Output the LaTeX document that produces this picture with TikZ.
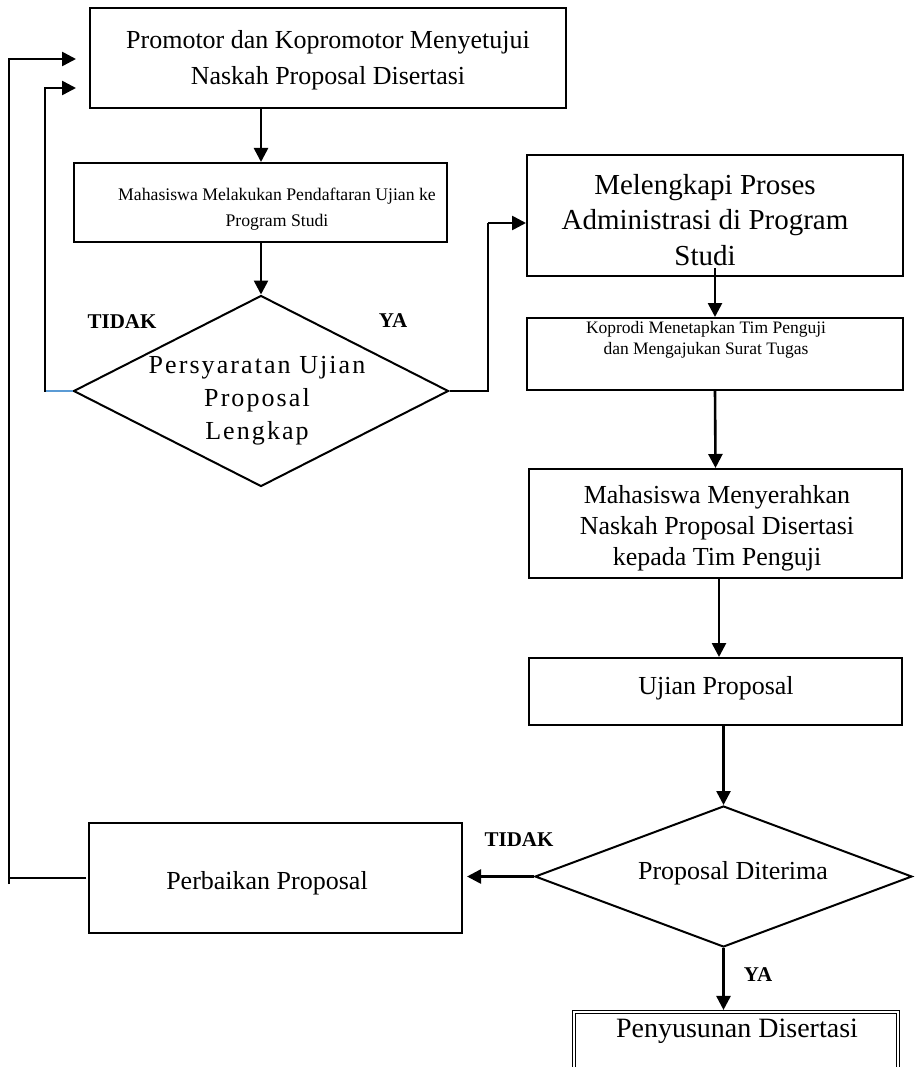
\documentclass[tikz,border=0pt]{standalone}
\usepackage{fontspec}
\setmainfont{Liberation Serif}
\newfontfamily\spacedserif[LetterSpace=8]{Liberation Serif}
\usetikzlibrary{shapes.geometric,arrows.meta}
\definecolor{linkblue}{HTML}{5B9BD5}
\begin{document}
\begin{tikzpicture}[x=1pt,y=-1pt,
  box/.style={draw,line width=2pt,rectangle,inner sep=0pt},
  dia/.style={draw,line width=2pt,diamond,inner sep=0pt},
  dbox/.style={draw,line width=1.1pt,double,double distance=2pt,rectangle,inner sep=0pt},
  txt/.style={align=center,inner sep=0pt},
  lbl/.style={inner sep=0pt,font=\fontsize{21}{24}\selectfont\bfseries},
  arr/.style={line width=2.6pt,-{Triangle[length=14pt,width=14pt]}},
  ln/.style={line width=2.6pt},
  blueln/.style={line width=1.5pt,draw=linkblue}]
\clip (0,0) rectangle (916,1067);
\fill[white] (0,0) rectangle (916,1067);

% boxes
\node[box,minimum width=476pt,minimum height=100pt] (n1) at (328,58) {};
\node[txt,font=\fontsize{26}{36}\selectfont] (t1) at (328,60) {Promotor dan Kopromotor Menyetujui\\Naskah Proposal Disertasi};

\node[box,minimum width=373pt,minimum height=79pt] (n2) at (260.5,202.5) {};
\node[txt,font=\fontsize{17.7}{26}\selectfont] (t2) at (277,209) {Mahasiswa Melakukan Pendaftaran Ujian ke\\Program Studi};

\node[dia,minimum width=375pt,minimum height=191pt] (d1) at (261,391) {};
\node[txt,font=\spacedserif\fontsize{26}{33}\selectfont] (td1) at (257,401) {Persyaratan Ujian\\Proposal\\Lengkap};

\node[box,minimum width=376pt,minimum height=121pt] (n3) at (715,215.5) {};
\node[txt,font=\fontsize{29}{35.5}\selectfont] (t3) at (705,220) {Melengkapi Proses\\Administrasi di Program\\Studi};

\node[box,minimum width=376pt,minimum height=72pt] (n4) at (715,354) {};
\node[txt,font=\fontsize{17.5}{21}\selectfont] (t4) at (706,340) {Koprodi Menetapkan Tim Penguji\\dan Mengajukan Surat Tugas};

\node[box,minimum width=373pt,minimum height=109pt] (n5) at (715.5,523.5) {};
\node[txt,font=\fontsize{26}{31}\selectfont] (t5) at (717,528) {Mahasiswa Menyerahkan\\Naskah Proposal Disertasi\\kepada Tim Penguji};

\node[box,minimum width=373pt,minimum height=67pt] (n6) at (715.5,691.5) {};
\node[txt,font=\fontsize{26}{31}\selectfont] (t6) at (716,688) {Ujian Proposal};

\node[dia,minimum width=377pt,minimum height=141pt] (d2) at (723.5,876.5) {};
\node[txt,font=\fontsize{26}{31}\selectfont] (td2) at (733,873) {Proposal Diterima};

\node[box,minimum width=373pt,minimum height=110pt] (n7) at (275.5,878) {};
\node[txt,font=\fontsize{26}{31}\selectfont] (t7) at (267,883) {Perbaikan Proposal};

\node[dbox,minimum width=324pt,minimum height=100pt] (n8) at (736,1062) {};
\node[txt,font=\fontsize{28}{33}\selectfont] (t8) at (737,1031) {Penyusunan Disertasi};

% labels
\node[lbl] (l1) at (122,322) {TIDAK};
\node[lbl] (l2) at (393,321) {YA};
\node[lbl] (l3) at (519,840) {TIDAK};
\node[lbl] (l4) at (758,975) {YA};

% coordinates for free ends
\coordinate (c1) at (488,223);
\coordinate (c2) at (45,391);
\coordinate (c3) at (76,88);
\coordinate (c4) at (9,884);
\coordinate (c5) at (76,59);

% connectors
\draw[arr] (n1.south -| d1.north) -- (n2.north -| d1.north);
\draw[arr] (n2.south -| d1.north) -- (d1.north);
\draw[ln] (d1.east) -| (c1);
\draw[arr] (c1) -- (c1 -| n3.west);
\draw[blueln] (d1.west) -- (c2);
\draw[arr] ([yshift=-0.7pt]c2) |- (c3);
\draw[arr] ([yshift=9pt]n3.south) -- (n4.north);
\draw[arr] (n4.south) -- (n5.north);
\draw[arr] ([xshift=3.5pt]n5.south) -- ([xshift=3.5pt]n6.north);
\draw[arr] (n6.south -| d2.north) -- (d2.north);
\draw[arr,shorten >=1.5pt] (d2.south) -- (d2.south |- n8.north);
\draw[arr] (d2.west) -- ([xshift=4pt]d2.west -| n7.east);
\draw[ln] ([xshift=-2pt]n7.west) -- (n7.west -| c4);
\draw[arr] (c4) |- (c5);
\end{tikzpicture}
\end{document}
